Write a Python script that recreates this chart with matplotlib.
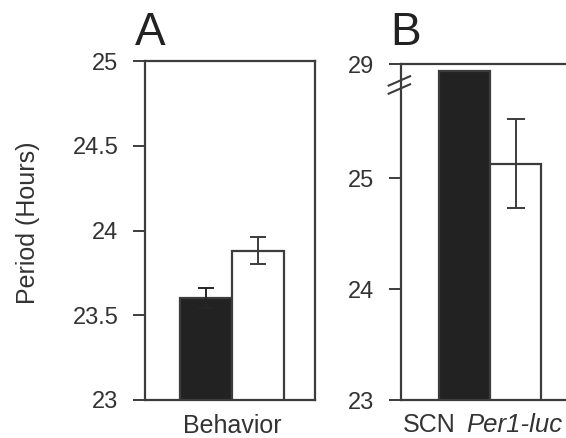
import matplotlib
matplotlib.use("Agg")
import matplotlib.pyplot as plt
import numpy as np

plt.rcParams['font.family'] = ['Liberation Sans', 'DejaVu Sans']

# periods in hours, black = first group, white = second group
beh_period = [23.60, 23.88]
beh_err = [0.06, 0.08]
scn_period = [28.7, 25.13]
scn_err = [0.0, 0.40]
beh_ticks = [23, 23.5, 24, 24.5, 25]
beh_ticklabels = ['23', '23.5', '24', '24.5', '25']
scn_ticks = [23, 24, 25, 29]
scn_ticklabels = ['23', '24', '25', '29']

line_col = '#3c3c3c'
text_col = '#333333'
bar_cols = ['#222222', 'white']
err_cols = ['#262626', line_col]

# broken axis for panel B: identity up to 25.8, gap up to 28, then squeezed
knots_in = np.array([0.0, 25.8, 28.0, 29.0, 40.0])
knots_out = np.array([0.0, 25.8, 25.82, 26.03, 26.03 + 11 * 0.21])

def fwd(y):
    return np.interp(y, knots_in, knots_out)

def inv(y):
    return np.interp(y, knots_out, knots_in)

W, H = 566, 438
fig = plt.figure(figsize=(W / 100, H / 100), dpi=100)

def px_axes(left, right, top, bottom):
    return fig.add_axes([left / W, 1 - bottom / H, (right - left) / W, (bottom - top) / H])

axA = px_axes(145, 315, 61, 400)
axB = px_axes(401, 566, 64, 400)

def style(ax):
    for s in ax.spines.values():
        s.set_color(line_col)
        s.set_linewidth(1.6)
    ax.tick_params(axis='y', direction='out', length=9, width=1.4, color=line_col,
                   labelsize=17, labelcolor=text_col, pad=10)
    ax.tick_params(axis='x', length=0, labelsize=18, labelcolor=text_col, pad=10)

xs = [-0.5, 0.5]

# panel A - behaviour
axA.bar(xs, beh_period, width=1.0, bottom=0, color=bar_cols, edgecolor=line_col, linewidth=1.6)
for x, v, e, c in zip(xs, beh_period, beh_err, err_cols):
    axA.errorbar(x, v, yerr=e, fmt='none', ecolor=c, elinewidth=1.4, capsize=5.5, capthick=1.4)
axA.set_xlim(-1.67, 1.6)
axA.set_ylim(23, 25)
axA.set_yticks(beh_ticks)
axA.set_yticklabels(beh_ticklabels)
axA.set_xticks([0])
axA.set_xticklabels(['Behavior'])
style(axA)
axA.set_ylabel('Period (Hours)', fontsize=18, color=text_col)
axA.yaxis.set_label_coords(-0.62, 0.522)

# panel B - SCN Per1-luc
axB.set_yscale('function', functions=(fwd, inv))
axB.bar(xs, scn_period, width=1.0, bottom=0, color=bar_cols, edgecolor=line_col, linewidth=1.6)
axB.errorbar(xs[1:], scn_period[1:], yerr=scn_err[1:], fmt='none', ecolor=line_col,
             elinewidth=1.4, capsize=6.5, capthick=1.4)
axB.set_xlim(-1.75, 1.49)
axB.set_ylim(23, 29)
axB.set_yticks(scn_ticks)
axB.set_yticklabels(scn_ticklabels)
axB.yaxis.set_minor_locator(matplotlib.ticker.NullLocator())
axB.set_xticks([0])
axB.set_xticklabels([''])
style(axB)
axB.spines['right'].set_visible(False)

# category label, gene name in italics
axB.annotate('SCN', xy=(0, 0), xycoords=('data', 'axes fraction'), xytext=(-25, -23),
             textcoords='offset points', ha='right', va='baseline', fontsize=18, color=text_col)
axB.annotate('Per1-luc', xy=(0, 0), xycoords=('data', 'axes fraction'), xytext=(-17.5, -23),
             textcoords='offset points', ha='left', va='baseline', fontsize=18.5,
             style='italic', color=text_col, annotation_clip=False)

# break marks on the left spine of panel B
yb = (fwd(28.1) - fwd(23)) / (fwd(29) - fwd(23))
for off in (-0.012, 0.012):
    axB.plot([-0.075, 0.055], [yb + off - 0.014, yb + off + 0.014], transform=axB.transAxes,
             color=line_col, lw=1.5, clip_on=False)

fig.text(135 / W, 1 - 45 / H, 'A', fontsize=33, color='#222222', ha='left', va='baseline')
fig.text(390 / W, 1 - 45 / H, 'B', fontsize=33, color='#222222', ha='left', va='baseline')

fig.savefig('out.png', dpi=100)
